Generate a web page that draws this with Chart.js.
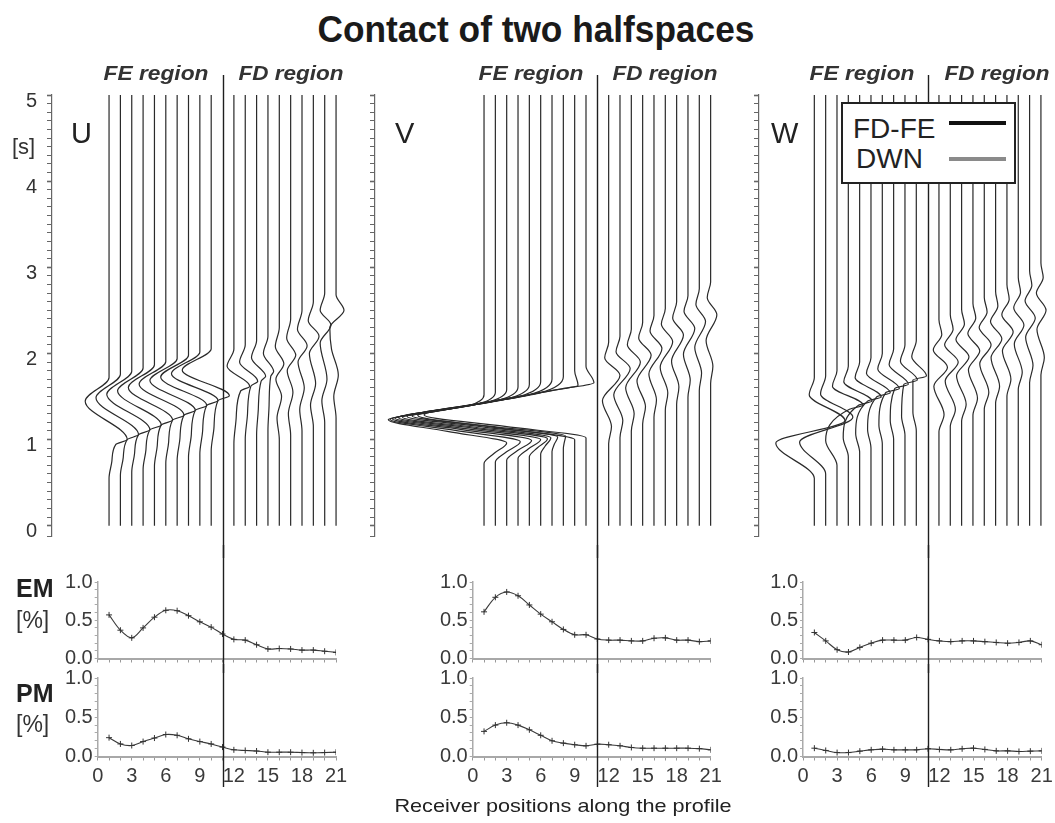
<!DOCTYPE html>
<html>
<head>
<meta charset="utf-8">
<title>Contact of two halfspaces</title>
<script src="https://cdn.jsdelivr.net/npm/chart.js@4.4.1/dist/chart.umd.min.js"></script>
<style>
  body { margin: 0; background: #fff; }
  #page { position: relative; width: 1055px; height: 823px; overflow: hidden;
          font-family: "Liberation Sans", Arial, sans-serif; color: #222; }
  canvas { position: absolute; }
  .lbl { position: absolute; white-space: nowrap; line-height: 1; z-index: 5; }
  .region { font: italic bold 21px "Liberation Sans Narrow", "Liberation Sans", Arial, sans-serif; color: #333; }
  .comp { font-size: 29px; color: #222; }
  .side { font-size: 23px; color: #333; }
  .sideb { font-size: 25px; font-weight: bold; color: #222; }
  #legendBox { position: absolute; left: 841px; top: 102px; width: 171px; height: 78px;
               border: 2px solid #222; background: #fff; z-index: 6; }
  #legendBox .lbl { font-size: 28px; color: #222; }
  .swatch { position: absolute; left: 106px; width: 57px; height: 4px; }
</style>
</head>
<body>
<div id="page">
  <canvas id="cU" width="352" height="488" style="left:0px;top:70px"></canvas>
  <canvas id="cV" width="390" height="488" style="left:330px;top:70px"></canvas>
  <canvas id="cW" width="340" height="488" style="left:715px;top:70px"></canvas>

  <canvas id="eU" width="297" height="128" style="left:55px;top:545px"></canvas>
  <canvas id="pU" width="297" height="126" style="left:55px;top:664px"></canvas>
  <canvas id="eV" width="297" height="128" style="left:430px;top:545px"></canvas>
  <canvas id="pV" width="297" height="126" style="left:430px;top:664px"></canvas>
  <canvas id="eW" width="297" height="128" style="left:760px;top:545px"></canvas>
  <canvas id="pW" width="297" height="126" style="left:760px;top:664px"></canvas>

  <div class="lbl fit" id="title" data-w="437" style="left:536px;top:9px;font:bold 37px 'Liberation Sans Narrow','Liberation Sans',Arial,sans-serif;color:#1a1a1a">Contact of two halfspaces</div>

  <div class="lbl region fit" data-w="105" style="left:156px;top:61px">FE region</div>
  <div class="lbl region fit" data-w="105" style="left:291px;top:61px">FD region</div>
  <div class="lbl region fit" data-w="105" style="left:531px;top:61px">FE region</div>
  <div class="lbl region fit" data-w="105" style="left:665px;top:61px">FD region</div>
  <div class="lbl region fit" data-w="105" style="left:862px;top:61px">FE region</div>
  <div class="lbl region fit" data-w="105" style="left:997px;top:61px">FD region</div>

  <div class="lbl comp" style="left:71px;top:119px">U</div>
  <div class="lbl comp" style="left:395px;top:119px">V</div>
  <div class="lbl comp" style="left:771px;top:119px">W</div>
  <div class="lbl side" style="left:12px;top:136px;font-size:22px">[s]</div>

  <div class="lbl sideb" style="left:16px;top:576px">EM</div>
  <div class="lbl side" style="left:16px;top:609px">[%]</div>
  <div class="lbl sideb" style="left:16px;top:681px">PM</div>
  <div class="lbl side" style="left:16px;top:713px">[%]</div>

  <div class="lbl fit" data-w="337" style="left:563px;top:796px;font-size:19px;color:#222">Receiver positions along the profile</div>

  <div id="legendBox">
    <span class="lbl" style="left:10px;top:11px">FD-FE</span>
    <span class="swatch" style="top:17px;background:#111"></span>
    <span class="lbl" style="left:13px;top:41px">DWN</span>
    <span class="swatch" style="top:53px;background:#8a8a8a"></span>
  </div>
</div>

<script>
// receivers 1..21, number 11 is the FE/FD contact (drawn as the divider)
const receivers = [1, 2, 3, 4, 5, 6, 7, 8, 9, 10, 12, 13, 14, 15, 16, 17, 18, 19, 20, 21];
const profile = [1, 2, 3, 4, 5, 6, 7, 8, 9, 10, 11, 12, 13, 14, 15, 16, 17, 18, 19, 20, 21];
const dividerAt = 11;
const timeMin = -0.12;
const timeMax = 5;

// seismogram traces: [time s, displacement in receiver spacings]
const uTraces = [
  [[0,0],[0.55,0],[0.75,0.25],[0.944,0.6],[1.0,1.6],[1.445,-2.1],[1.72,0],[5,0]],
  [[0,0],[0.585,0],[0.79,0.25],[1.0,0.6],[1.057,1.6],[1.485,-2.15],[1.757,0],[5,0]],
  [[0,0],[0.62,0],[0.84,0.25],[1.057,0.6],[1.113,1.6],[1.525,-2.2],[1.794,0],[5,0]],
  [[0,0],[0.655,0],[0.88,0.25],[1.113,0.6],[1.17,1.6],[1.565,-2.25],[1.83,0],[5,0]],
  [[0,0],[0.69,0],[0.93,0.25],[1.17,0.6],[1.226,1.6],[1.605,-2.3],[1.868,0],[5,0]],
  [[0,0],[0.725,0],[0.97,0.25],[1.226,0.6],[1.283,1.6],[1.645,-2.35],[1.905,0],[5,0]],
  [[0,0],[0.76,0],[1.02,0.25],[1.283,0.6],[1.339,1.6],[1.685,-2.4],[1.942,0],[5,0]],
  [[0,0],[0.795,0],[1.06,0.25],[1.339,0.6],[1.396,1.6],[1.725,-2.45],[1.979,0],[5,0]],
  [[0,0],[0.83,0],[1.11,0.25],[1.396,0.6],[1.452,1.6],[1.765,-2.5],[2.016,0],[5,0]],
  [[0,0],[0.865,0],[1.15,0.25],[1.452,0.6],[1.509,1.6],[1.805,-2.55],[2.053,0],[5,0]],
  [[0,0],[0.95,0],[1.25,0.2],[1.565,0.6],[1.62,1.4],[1.85,-0.6],[2.05,0],[5,0]],
  [[0,0],[1.0,0],[1.3,0.2],[1.62,0.5],[1.678,1.1],[1.9,-0.5],[2.1,0],[5,0]],
  [[0,0],[1.05,0],[1.35,0.15],[1.678,0.4],[1.735,0.8],[1.95,-0.45],[2.15,0],[5,0]],
  [[0,0],[1.1,0],[1.4,0.1],[1.735,0.25],[1.79,0.5],[2.0,-0.4],[2.2,0],[5,0]],
  [[0,0],[1.0,0],[1.25,-0.2],[1.5,0.2],[1.7,-0.3],[1.88,0.4],[2.08,-0.35],[2.3,0],[5,0]],
  [[0,0],[1.05,0],[1.3,-0.2],[1.55,0.2],[1.8,-0.3],[1.98,0.45],[2.18,-0.35],[2.4,0],[5,0]],
  [[0,0],[1.1,0],[1.35,-0.2],[1.6,0.2],[1.9,-0.35],[2.09,0.45],[2.28,-0.4],[2.5,0],[5,0]],
  [[0,0],[1.15,0],[1.4,-0.25],[1.65,0.2],[2.0,-0.35],[2.2,0.5],[2.38,-0.45],[2.6,0],[5,0]],
  [[0,0],[1.2,0],[1.45,-0.25],[1.7,0.2],[2.12,-0.4],[2.33,0.55],[2.5,-0.4],[2.7,0],[5,0]],
  [[0,0],[1.25,0],[1.5,-0.2],[1.75,0.2],[2.05,-0.4],[2.3,-0.55],[2.5,0.7],[2.68,0],[5,0]]
];

const vTraces = [
  [[0,0],[0.72,0],[0.84,0.9],[0.96,2.0],[1.095,-3.225],[1.23,-8.45],[1.309,-5.07],[1.398,-1.27],[1.52,0],[5,0]],
  [[0,0],[0.74,0],[0.8575,0.99],[0.975,2.2],[1.1055,-3.55],[1.236,-9.3],[1.321,-5.58],[1.419,-1.395],[1.55,0],[5,0]],
  [[0,0],[0.76,0],[0.875,0.99],[0.99,2.2],[1.116,-3.95],[1.242,-10.1],[1.333,-6.06],[1.439,-1.515],[1.58,0],[5,0]],
  [[0,0],[0.78,0],[0.89,0.9],[1.0,2.0],[1.124,-4.425],[1.248,-10.85],[1.346,-6.51],[1.46,-1.63],[1.61,0],[5,0]],
  [[0,0],[0.8,0],[0.905,0.72],[1.01,1.6],[1.132,-4.975],[1.254,-11.55],[1.359,-6.93],[1.481,-1.73],[1.64,0],[5,0]],
  [[0,0],[0.83,0],[0.925,0.4],[1.02,0.9],[1.14,-5.65],[1.26,-12.2],[1.374,-7.32],[1.502,-1.83],[1.67,0],[5,0]],
  [[0,0],[0.86,0],[0.945,0.2],[1.03,0.5],[1.148,-6.15],[1.266,-12.8],[1.389,-7.68],[1.523,-1.92],[1.7,0],[5,0]],
  [[0,0],[0.89,0],[0.965,0.08],[1.04,0.2],[1.156,-6.575],[1.272,-13.35],[1.404,-8.01],[1.545,-2.0],[1.73,0],[5,0]],
  [[0,0],[1.0,0],[1.139,-6.925],[1.278,-13.85],[1.421,-8.31],[1.567,-2.08],[1.63,0.3],[1.8,0],[5,0]],
  [[0,0],[1.02,0],[1.152,-7.15],[1.284,-14.3],[1.438,-8.58],[1.588,-2.145],[1.66,0.7],[1.85,0],[5,0]],
  [[0,0],[0.95,0],[1.15,0.25],[1.45,-0.55],[1.746,1.0],[1.95,-0.35],[2.13,0],[5,0]],
  [[0,0],[1.02,0],[1.22,0.25],[1.52,-0.55],[1.824,0.9],[2.02,-0.35],[2.2,0],[5,0]],
  [[0,0],[1.1,0],[1.3,0.25],[1.6,-0.5],[1.9,0.8],[2.1,-0.35],[2.28,0],[5,0]],
  [[0,0],[1.18,0],[1.38,0.25],[1.68,-0.5],[1.98,0.75],[2.18,-0.35],[2.36,0],[5,0]],
  [[0,0],[1.26,0],[1.46,0.22],[1.76,-0.45],[2.058,0.7],[2.26,-0.35],[2.44,0],[5,0]],
  [[0,0],[1.34,0],[1.54,0.22],[1.84,-0.45],[2.136,0.65],[2.34,-0.35],[2.52,0],[5,0]],
  [[0,0],[1.41,0],[1.61,0.2],[1.91,-0.45],[2.214,0.6],[2.41,-0.35],[2.6,0],[5,0]],
  [[0,0],[1.49,0],[1.69,0.2],[1.99,-0.4],[2.29,0.6],[2.49,-0.35],[2.67,0],[5,0]],
  [[0,0],[1.57,0],[1.77,0.2],[2.07,-0.4],[2.37,0.55],[2.57,-0.3],[2.75,0],[5,0]],
  [[0,0],[1.65,0],[1.85,0.2],[2.15,-0.4],[2.45,0.55],[2.65,-0.3],[2.83,0],[5,0]]
];

const wTraces = [
  [[0,0],[0.55,0],[0.96,-3.4],[1.22,2.7],[1.52,-0.45],[1.72,0],[5,0]],
  [[0,0],[0.6,0],[0.97,-2.3],[1.26,2.4],[1.53,-0.45],[1.74,0],[5,0]],
  [[0,0],[0.7,0],[0.99,-1.0],[1.351,1.1],[1.4,2.3],[1.62,-0.4],[1.8,0],[5,0]],
  [[0,0],[0.8,0],[1.02,-0.45],[1.397,0.9],[1.446,2.1],[1.67,-0.4],[1.85,0],[5,0]],
  [[0,0],[0.85,0],[1.07,-0.35],[1.446,0.7],[1.495,1.9],[1.72,-0.4],[1.9,0],[5,0]],
  [[0,0],[0.9,0],[1.12,-0.3],[1.495,0.5],[1.544,1.7],[1.77,-0.4],[1.95,0],[5,0]],
  [[0,0],[0.95,0],[1.17,-0.3],[1.544,0.3],[1.593,1.5],[1.82,-0.4],[2.0,0],[5,0]],
  [[0,0],[1.0,0],[1.22,-0.3],[1.593,0.1],[1.642,1.3],[1.87,-0.4],[2.05,0],[5,0]],
  [[0,0],[1.05,0],[1.27,-0.3],[1.641,-0.1],[1.69,1.1],[1.91,-0.4],[2.1,0],[5,0]],
  [[0,0],[1.1,0],[1.32,-0.3],[1.69,-0.3],[1.739,0.9],[1.96,-0.4],[2.15,0],[5,0]],
  [[0,0],[1.09,0],[1.29,0.45],[1.62,-0.45],[1.84,0.75],[2.04,-0.5],[2.22,0.25],[2.39,0],[5,0]],
  [[0,0],[1.15,0],[1.35,0.45],[1.68,-0.45],[1.9,0.7],[2.1,-0.5],[2.28,0.25],[2.45,0],[5,0]],
  [[0,0],[1.21,0],[1.41,0.4],[1.74,-0.45],[1.96,0.65],[2.16,-0.5],[2.34,0.25],[2.51,0],[5,0]],
  [[0,0],[1.28,0],[1.48,0.4],[1.81,-0.4],[2.03,0.6],[2.23,-0.45],[2.41,0.25],[2.58,0],[5,0]],
  [[0,0],[1.35,0],[1.55,0.4],[1.88,-0.4],[2.1,0.6],[2.3,-0.45],[2.48,0.25],[2.65,0],[5,0]],
  [[0,0],[1.42,0],[1.62,0.35],[1.95,-0.4],[2.17,0.55],[2.37,-0.45],[2.55,0.2],[2.72,0],[5,0]],
  [[0,0],[1.5,0],[1.7,0.35],[2.03,-0.4],[2.25,0.55],[2.45,-0.45],[2.63,0.2],[2.8,0],[5,0]],
  [[0,0],[1.58,0],[1.78,0.35],[2.11,-0.35],[2.33,0.5],[2.53,-0.4],[2.71,0.2],[2.88,0],[5,0]],
  [[0,0],[1.66,0],[1.86,0.3],[2.19,-0.35],[2.41,0.5],[2.61,-0.4],[2.79,0.2],[2.96,0],[5,0]],
  [[0,0],[1.75,0],[1.95,0.3],[2.28,-0.35],[2.5,0.45],[2.7,-0.4],[2.88,0.2],[3.05,0],[5,0]]
];

// envelope (EM) and phase (PM) misfits along the profile
const emU = [0.57,0.37,0.27,0.40,0.54,0.63,0.625,0.56,0.48,0.41,0.32,0.25,0.24,0.18,0.125,0.13,0.125,0.11,0.11,0.095,0.08];
const pmU = [0.24,0.16,0.14,0.19,0.235,0.28,0.27,0.225,0.19,0.16,0.12,0.085,0.077,0.07,0.055,0.055,0.055,0.05,0.047,0.05,0.055];
const emV = [0.61,0.80,0.87,0.82,0.70,0.58,0.48,0.38,0.31,0.31,0.255,0.24,0.24,0.23,0.23,0.265,0.27,0.24,0.24,0.22,0.23];
const pmV = [0.32,0.40,0.43,0.40,0.34,0.27,0.20,0.17,0.15,0.136,0.157,0.15,0.136,0.115,0.106,0.106,0.106,0.106,0.106,0.10,0.085];
const emW = [0.34,0.23,0.115,0.085,0.145,0.20,0.24,0.24,0.24,0.275,0.25,0.23,0.22,0.23,0.23,0.22,0.21,0.20,0.21,0.23,0.18];
const pmW = [0.106,0.077,0.05,0.05,0.068,0.085,0.094,0.085,0.085,0.085,0.098,0.09,0.085,0.098,0.106,0.09,0.072,0.072,0.064,0.068,0.072];

const fontFamily = "'Liberation Sans', Arial, sans-serif";
Chart.defaults.font.family = fontFamily;

const isWhole = v => Math.abs(v - Math.round(v)) < 1e-6;

// vertical line at the FE/FD contact, runs over the whole canvas height
const dividerPlugin = {
    id: 'divider',
    afterDatasetsDraw(chart, args, opts) {
        const x = Math.round(chart.scales.x.getPixelForValue(opts.at)) + 0.5;
        const ctx = chart.ctx;
        ctx.save();
        ctx.strokeStyle = '#1e1e1e';
        ctx.lineWidth = 1.4;
        ctx.beginPath();
        ctx.moveTo(x, opts.top || 0);
        ctx.lineTo(x, opts.bottom == null ? chart.height : opts.bottom);
        ctx.stroke();
        ctx.restore();
    }
};

function seismoChart(id, traces, opt) {
    const datasets = receivers.map((r, k) => ({
        data: traces[k].map(p => ({ x: r + p[1], y: p[0] })),
        borderColor: '#2a2a2a',
        borderWidth: 1.2,
        pointRadius: 0,
        fill: false,
        cubicInterpolationMode: 'monotone'
    }));

    return new Chart(document.getElementById(id), {
        type: 'line',
        data: { datasets: datasets },
        options: {
            responsive: false,
            animation: false,
            devicePixelRatio: 1,
            indexAxis: 'y',
            // tick padding (10) + half a label line (12) sets the bottom gap
            layout: { padding: { top: 25, bottom: 22, left: 0, right: 0 } },
            plugins: {
                legend: { display: false },
                tooltip: { enabled: false },
                divider: { at: dividerAt, top: 5 }
            },
            scales: {
                x: { type: 'linear', min: opt.xMin, max: opt.xMax, display: false },
                y: {
                    type: 'linear',
                    min: timeMin,
                    max: timeMax,
                    afterFit: s => { s.width = opt.axisW; },
                    ticks: {
                        stepSize: 0.1,
                        autoSkip: false,
                        padding: 10,
                        labelOffset: 6,
                        color: '#333',
                        font: { size: 20 },
                        callback: v => (opt.labels && isWhole(v) && v >= 0) ? String(Math.round(v)) : ''
                    },
                    grid: {
                        drawOnChartArea: false,
                        tickLength: 5,
                        color: '#666',
                        tickWidth: c => isWhole(c.tick.value) ? 1.6 : 1
                    },
                    border: { display: true, color: '#666', width: 1.2 }
                }
            }
        },
        plugins: [dividerPlugin]
    });
}

function misfitChart(id, values, opt) {
    return new Chart(document.getElementById(id), {
        type: 'line',
        data: {
            datasets: [{
                data: values.map((v, k) => ({ x: profile[k], y: v })),
                borderColor: '#3a3a3a',
                borderWidth: 1.1,
                tension: 0.35,
                pointStyle: 'cross',
                pointRadius: 3,
                pointBorderWidth: 1,
                pointBorderColor: '#333'
            }]
        },
        options: {
            responsive: false,
            animation: false,
            devicePixelRatio: 1,
            layout: { padding: { top: opt.padTop, right: opt.padRight, left: 0, bottom: 0 } },
            plugins: {
                legend: { display: false },
                tooltip: { enabled: false },
                divider: { at: dividerAt, top: 0, bottom: opt.divBottom }
            },
            scales: {
                x: {
                    type: 'linear', min: 0, max: 21,
                    afterFit: s => { s.height = opt.xH; },
                    ticks: {
                        stepSize: 1, autoSkip: false, maxRotation: 0, padding: 4,
                        color: '#3a3a3a', font: { size: 20 },
                        callback: v => (opt.xLabels && v % 3 === 0) ? String(v) : ''
                    },
                    grid: { drawOnChartArea: false, tickLength: 4, color: '#999' },
                    border: { color: '#a8a8a8', width: 2 }
                },
                y: {
                    min: 0, max: 1,
                    afterFit: s => { s.width = opt.axisW; },
                    ticks: {
                        stepSize: 0.1, autoSkip: false, padding: 2,
                        color: '#3a3a3a', font: { size: 20 },
                        callback: v => isWhole(v * 2) ? v.toFixed(1) : ''
                    },
                    grid: { drawOnChartArea: false, tickLength: 3, color: '#aaa' },
                    border: { color: '#aaa', width: 1.5 }
                }
            }
        },
        plugins: [dividerPlugin]
    });
}

seismoChart('cU', uTraces, { xMin: -4.026, xMax: 22.405, axisW: 52, labels: true });
seismoChart('cV', vTraces, { xMin: -8.623, xMax: 21.827, axisW: 45, labels: false });
seismoChart('cW', wTraces, { xMin: -3.883, xMax: 22.242, axisW: 44, labels: false });

const emOpt = { padTop: 37, xH: 14.5, xLabels: false, divBottom: null };
const pmOpt = { padTop: 14, xH: 33.5, xLabels: true, divBottom: 123 };

misfitChart('eU', emU, Object.assign({ axisW: 42.7, padRight: 16 }, emOpt));
misfitChart('pU', pmU, Object.assign({ axisW: 42.7, padRight: 16 }, pmOpt));
misfitChart('eV', emV, Object.assign({ axisW: 42.7, padRight: 16.3 }, emOpt));
misfitChart('pV', pmV, Object.assign({ axisW: 42.7, padRight: 16.3 }, pmOpt));
misfitChart('eW', emW, Object.assign({ axisW: 43, padRight: 15.3 }, emOpt));
misfitChart('pW', pmW, Object.assign({ axisW: 43, padRight: 15.3 }, pmOpt));

// squeeze the condensed-looking labels to the widths they have in the figure
document.querySelectorAll('.fit').forEach(el => {
    const w = el.getBoundingClientRect().width;
    const k = Number(el.dataset.w) / w;
    el.style.transform = 'translateX(-50%) scaleX(' + k.toFixed(3) + ')';
});
</script>
</body>
</html>
